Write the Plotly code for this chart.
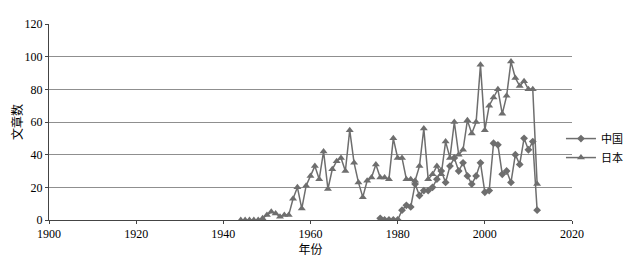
import plotly.graph_objects as go

japan_years = list(range(1944, 2013))
japan_values = [0, 0, 0, 0, 0, 1, 3, 5, 4, 2, 3, 3, 13, 20, 7, 21, 27, 33, 25, 42,
                19, 31, 36, 38, 30, 55, 35, 23, 14, 24, 26, 34, 26, 26, 25, 50,
                38, 38, 25, 25, 24, 33, 56, 25, 28, 33, 28, 48, 38, 60, 40, 43,
                61, 53, 60, 95, 55, 70, 75, 80, 65, 76, 97, 87, 82, 85, 80, 80, 22]

china_years = list(range(1976, 2013))
china_values = [1, 0, 0, 0, 0, 6, 9, 8, 22, 15, 18, 18, 20, 25, 30, 23, 33, 38, 30, 35,
                27, 22, 27, 35, 17, 18, 47, 46, 28, 30, 23, 40, 34, 50, 43, 48, 6]

x_ticks = [1900, 1920, 1940, 1960, 1980, 2000, 2020]
y_ticks = [0, 20, 40, 60, 80, 100, 120]

line_color = "#6e6e6e"
serif = "Liberation Serif, Noto Sans CJK SC, serif"
cjk = "Noto Sans CJK SC"
black = "#000000"

fig = go.Figure()
fig.add_trace(go.Scatter(
    x=china_years, y=china_values, name="中国", mode="lines+markers",
    line=dict(color=line_color, width=1.5),
    marker=dict(symbol="diamond", size=6, color=line_color)))
fig.add_trace(go.Scatter(
    x=japan_years, y=japan_values, name="日本", mode="lines+markers",
    line=dict(color=line_color, width=1.5),
    marker=dict(symbol="triangle-up", size=7, color=line_color)))

fig.update_layout(
    width=628, height=249,
    margin=dict(l=41, r=64, t=16, b=37, autoexpand=False),
    paper_bgcolor="white", plot_bgcolor="white",
    font=dict(family=serif, size=12, color=black),
    legend=dict(x=1.107, y=0.367, yanchor="middle", xanchor="right",
                font=dict(family=cjk, size=11, color=black),
                itemwidth=30, tracegroupgap=0, bgcolor="rgba(0,0,0,0)"),
    xaxis=dict(range=[1900, 2020], tickvals=x_ticks, ticks="outside", ticklen=3,
               tickcolor="#444", showgrid=False, showline=True, linecolor="#444",
               linewidth=1, zeroline=False, automargin=False,
               tickfont=dict(family=serif, size=12, color=black),
               title=dict(text="年份", font=dict(family=cjk, size=12, color=black), standoff=2)),
    yaxis=dict(range=[0, 120], tickvals=y_ticks, ticks="outside", ticklen=3,
               tickcolor="#444", showgrid=True, gridcolor="#8f8f8f", gridwidth=1,
               showline=True, linecolor="#444", linewidth=1, zeroline=False, automargin=False,
               tickfont=dict(family=serif, size=12, color=black),
               title=dict(text="文章数", font=dict(family=cjk, size=12, color=black), standoff=0)),
)

fig.write_html("out.html")
